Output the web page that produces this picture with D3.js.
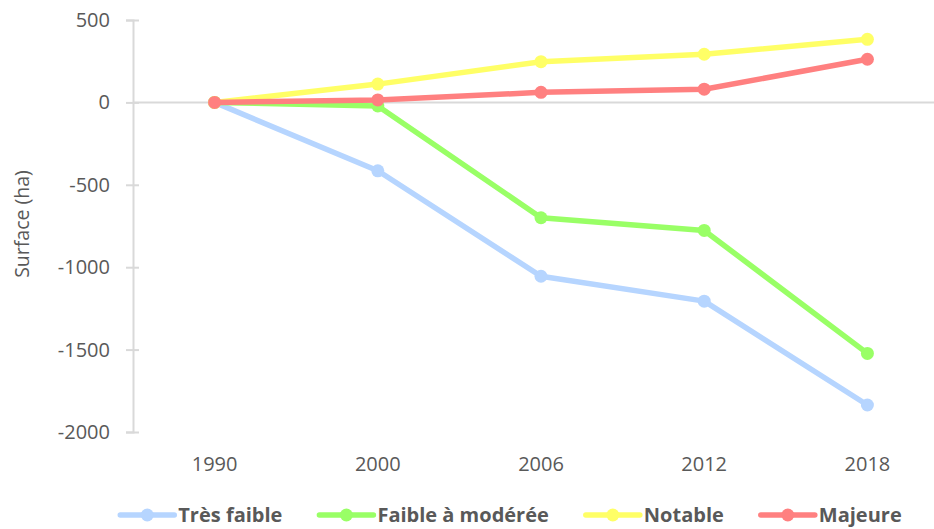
<!DOCTYPE html>
<html lang="fr">
<head>
	<meta charset="UTF-8">
	<title>Surface (ha)</title>
	<script src="https://cdn.jsdelivr.net/npm/d3@7/dist/d3.min.js"></script>
	<style>
		body { margin: 0; background: #fff; }
		text { font-family: "Open Sans", "Liberation Sans", sans-serif; fill: #595959; }
	</style>
</head>
<body>
<svg width="934" height="529"></svg>
<script>
	// data
	const years = ["1990", "2000", "2006", "2012", "2018"];
	const seriesNames = ["Très faible", "Faible à modérée", "Notable", "Majeure"];
	const tresFaible = [0, -415, -1055, -1206, -1836];
	const faibleModeree = [0, -22, -700, -777, -1523];
	const notable = [0, 111, 247, 292, 383];
	const majeure = [0, 15, 61, 80, 262];
	const yTicks = [500, 0, -500, -1000, -1500, -2000];
	const colors = ["#b6d5ff", "#99ff66", "#ffff66", "#ff8080"];

	const series = [tresFaible, faibleModeree, notable, majeure].map((v, i) => ({
		name: seriesNames[i], values: v, color: colors[i]
	}));

	const margin = { top: 20, left: 133 };
	const plotH = 412;
	const plotW = 816;

	const svg = d3.select("svg");

	const x = d3.scaleBand()
		.domain(years)
		.range([margin.left, margin.left + plotW]);

	const y = d3.scaleLinear()
		.domain([-2000, 500])
		.range([margin.top + plotH, margin.top]);

	// y axis
	const yAxis = svg.append("g")
		.attr("transform", `translate(${margin.left},0)`)
		.call(d3.axisLeft(y).tickValues(yTicks).tickSize(7).tickFormat(d => String(d)));
	yAxis.select(".domain").attr("stroke", "#d9d9d9").attr("stroke-width", 2);
	yAxis.selectAll(".tick line")
		.attr("stroke", "#d9d9d9").attr("stroke-width", 2)
		.attr("x1", 6).attr("x2", -7);
	yAxis.selectAll(".tick text")
		.attr("x", -23)
		.style("font-size", "20px")
		.style("fill", "#595959")
		.style("font-family", "\"Open Sans\", sans-serif");

	// zero line
	svg.append("line")
		.attr("x1", margin.left).attr("x2", margin.left + plotW)
		.attr("y1", y(0)).attr("y2", y(0))
		.attr("stroke", "#d9d9d9").attr("stroke-width", 2);

	// x labels
	svg.append("g").selectAll("text")
		.data(years)
		.enter().append("text")
		.attr("x", d => x(d) + x.bandwidth() / 2)
		.attr("y", 471)
		.attr("text-anchor", "middle")
		.style("font-size", "20px")
		.text(d => d);

	// y title
	svg.append("text")
		.attr("transform", `translate(29,224) rotate(-90)`)
		.attr("text-anchor", "middle")
		.style("font-size", "19.5px")
		.text("Surface (ha)");

	const line = d3.line()
		.x((d, i) => x(years[i]) + x.bandwidth() / 2)
		.y(d => y(d));

	const g = svg.selectAll(".serie")
		.data(series)
		.enter().append("g")
		.attr("class", "serie");

	g.append("path")
		.attr("d", d => line(d.values))
		.attr("fill", "none")
		.attr("stroke", d => d.color)
		.attr("stroke-width", 5.5)
		.attr("stroke-linejoin", "round");

	g.selectAll("circle")
		.data(d => d.values.map((v, i) => ({ v: v, i: i, color: d.color })))
		.enter().append("circle")
		.attr("cx", d => x(years[d.i]) + x.bandwidth() / 2)
		.attr("cy", d => y(d.v))
		.attr("r", 6.5)
		.attr("fill", d => d.color);

	// legend
	const legend = svg.append("g").attr("class", "legend");
	const items = legend.selectAll("g")
		.data(series)
		.enter().append("g");

	items.append("line")
		.attr("x1", 0).attr("x2", 54)
		.attr("y1", 0).attr("y2", 0)
		.attr("stroke", d => d.color)
		.attr("stroke-width", 5.5)
		.attr("stroke-linecap", "round");
	items.append("circle")
		.attr("cx", 27).attr("cy", 0).attr("r", 6.5)
		.attr("fill", d => d.color);
	items.append("text")
		.attr("x", 58)
		.attr("y", 7)
		.style("font-size", "20px")
		.style("font-weight", "bold")
		.text(d => d.name);

	let widths = [];
	items.each(function() { widths.push(this.getBBox().width); });
	const gap = 37;
	const total = d3.sum(widths) + gap * (widths.length - 1);
	let cx = 511 - total / 2;
	items.attr("transform", (d, i) => {
		const t = `translate(${cx},515)`;
		cx += widths[i] + gap;
		return t;
	});
</script>
</body>
</html>
